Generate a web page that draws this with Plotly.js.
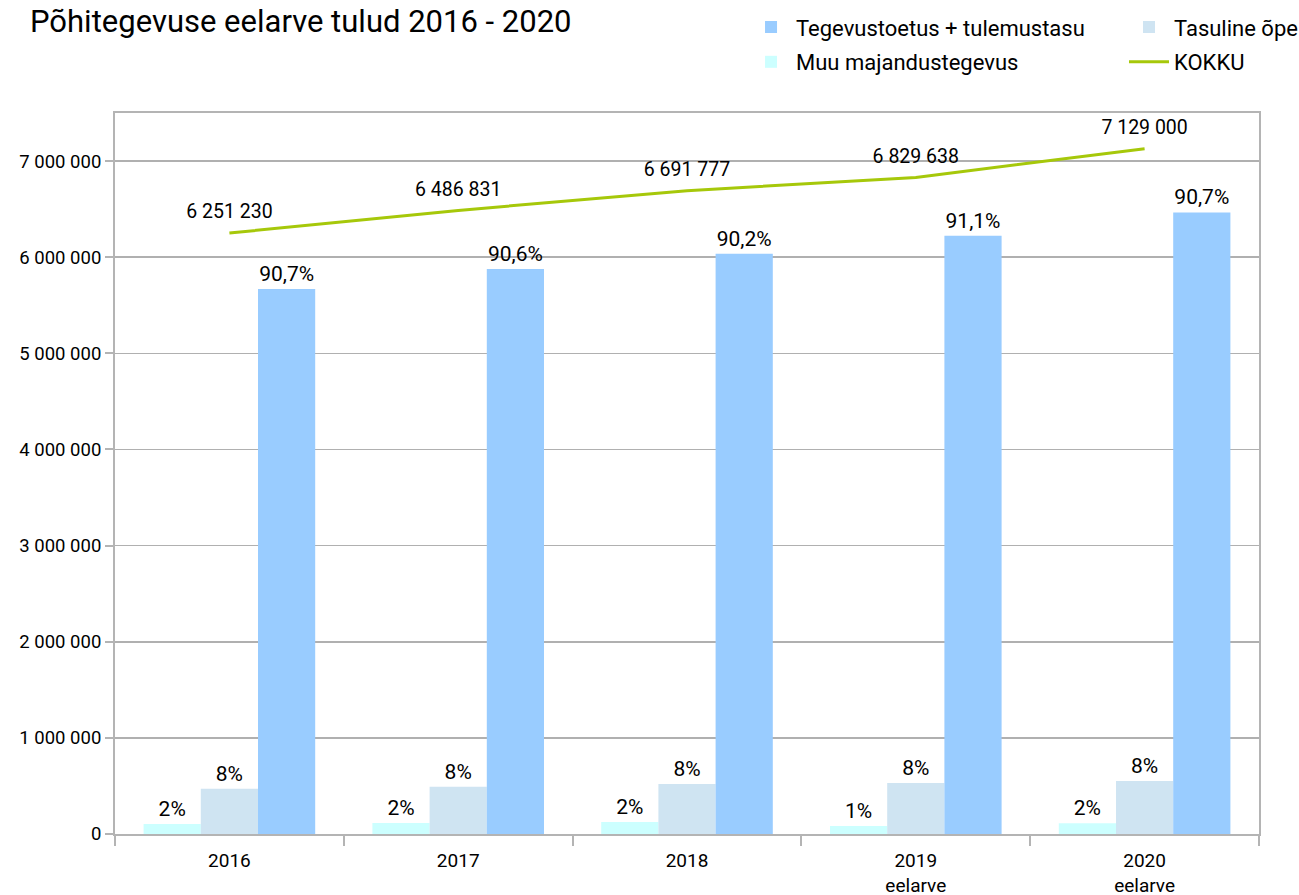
<!DOCTYPE html>
<html>
<head>
<meta charset="utf-8">
<script src="https://cdn.plot.ly/plotly-3.0.1.min.js"></script>
<style>html,body{margin:0;padding:0;background:#fff;}#chart{width:1299px;height:895px;}</style>
</head>
<body>
<div id="chart"></div>
<script>
const categories = ["2016", "2017", "2018", "2019<br>eelarve", "2020<br>eelarve"];
const tegevustoetus = [5670000, 5877000, 6036000, 6222000, 6466000];
const tasuline = [472000, 492000, 520000, 530000, 552000];
const muu = [104000, 115000, 125000, 82000, 113000];
const kokku = [6251230, 6486831, 6691777, 6829638, 7129000];
const tegevustoetusPct = ["90,7%", "90,6%", "90,2%", "91,1%", "90,7%"];
const tasulinePct = ["8%", "8%", "8%", "8%", "8%"];
const muuPct = ["2%", "2%", "2%", "1%", "2%"];

const FONT = "Roboto, Open Sans, sans-serif";

const traces = [
  {type: "bar", name: "Muu majandustegevus", x: categories, y: muu, text: muuPct,
   textposition: "outside", textfont: {size: 21, color: "#000", family: FONT},
   marker: {color: "#ccffff"}, cliponaxis: false, legend: "legend3"},
  {type: "bar", name: "Tasuline õpe", x: categories, y: tasuline, text: tasulinePct,
   textposition: "outside", textfont: {size: 21, color: "#000", family: FONT},
   marker: {color: "#cfe4f2"}, cliponaxis: false, legend: "legend2"},
  {type: "bar", name: "Tegevustoetus + tulemustasu", x: categories, y: tegevustoetus, text: tegevustoetusPct,
   textposition: "outside", textfont: {size: 21, color: "#000", family: FONT},
   marker: {color: "#99ccff"}, cliponaxis: false, legend: "legend"},
  {type: "scatter", mode: "lines+markers+text", name: "KOKKU", x: categories, y: kokku,
   texttemplate: "%{y:,d}", textposition: "top center",
   textfont: {size: 19.5, color: "#000", family: FONT},
   marker: {size: 14, color: "rgba(0,0,0,0)", line: {width: 0, color: "rgba(0,0,0,0)"}},
   line: {color: "#a6c80a", width: 3}, cliponaxis: false, legend: "legend4"}
];

const legFont = {size: 22, color: "#000", family: FONT};
function leg(x, y) {
  return {x: x, y: y, xanchor: "left", yanchor: "middle", orientation: "h",
          font: legFont, bgcolor: "rgba(0,0,0,0)", borderwidth: 0, itemwidth: 40};
}

const layout = {
  width: 1299, height: 895,
  paper_bgcolor: "#fff", plot_bgcolor: "#fff",
  separators: ", ",
  font: {family: FONT, color: "#000"},
  margin: {l: 115, r: 40, t: 113, b: 61, autoexpand: false},
  title: {text: "Põhitegevuse eelarve tulud 2016 - 2020", x: 30/1299, xref: "container", xanchor: "left",
          y: 1 - 21/895, yref: "container", yanchor: "middle",
          font: {size: 31, color: "#000", family: FONT}},
  barmode: "group", bargap: 0.25, bargroupgap: 0,
  showlegend: true,
  legend: leg(0.5516, 1.119),
  legend3: leg(0.5516, 1.0707),
  legend2: leg(0.882, 1.119),
  legend4: leg(0.882, 1.0707),
  xaxis: {type: "category", showgrid: false, showline: true, linecolor: "#b4b4b4", linewidth: 2, mirror: true,
          ticks: "outside", tickson: "boundaries", ticklen: 10, tickwidth: 2, tickcolor: "#b4b4b4",
          ticklabelstandoff: 8,
          tickfont: {size: 19, color: "#000", family: FONT}, zeroline: false},
  yaxis: {range: [0, 7500000], showgrid: true, gridcolor: "#b0b0b0", gridwidth: 1.6,
          showline: true, linecolor: "#b4b4b4", linewidth: 2, mirror: true,
          ticks: "outside", ticklen: 8, tickwidth: 2, tickcolor: "#b4b4b4",
          tickformat: ",d", dtick: 1000000, tick0: 0,
          tickfont: {size: 18.5, color: "#000", family: FONT}, zeroline: false},
  hovermode: false
};

Plotly.newPlot("chart", traces, layout, {displayModeBar: false, staticPlot: true});
</script>
</body>
</html>
